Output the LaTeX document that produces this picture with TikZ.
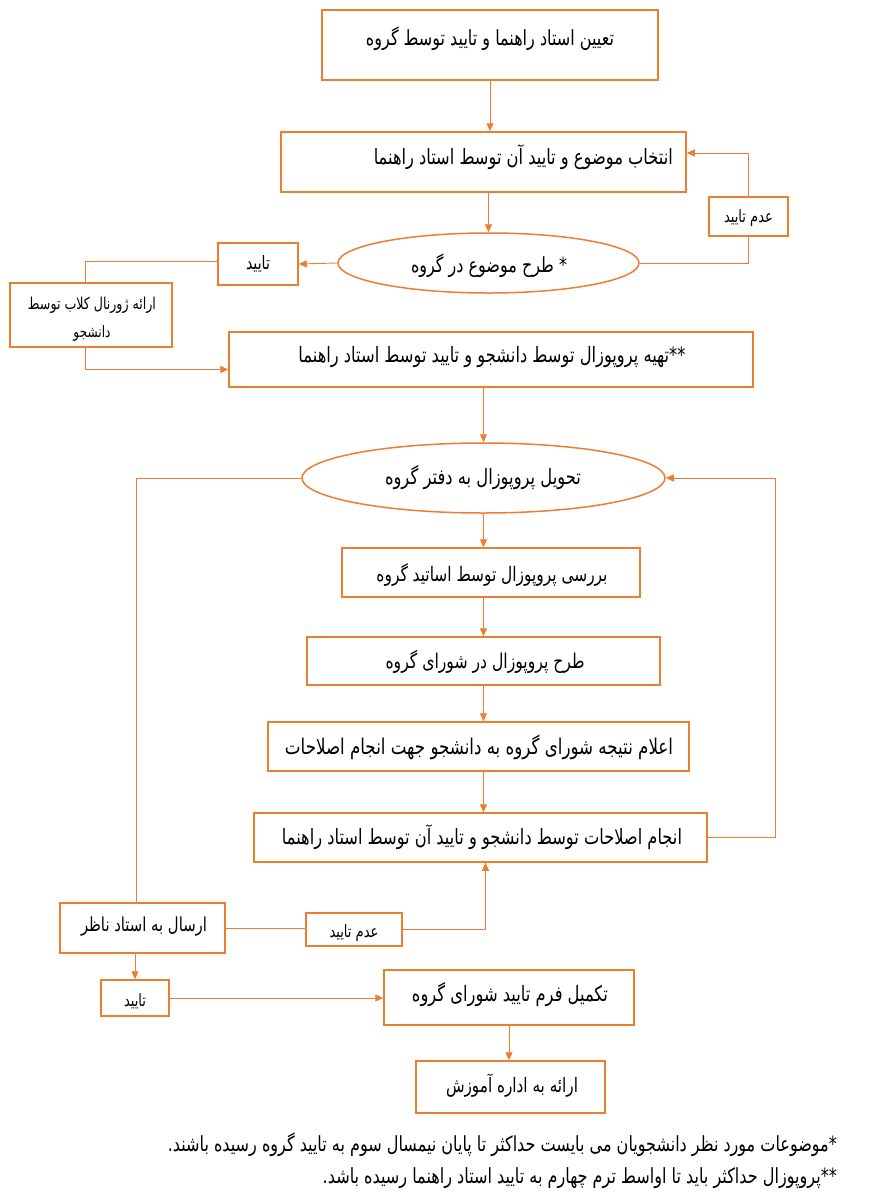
\documentclass[tikz,border=0pt]{standalone}
\usepackage{fontspec}
\usepackage{graphicx}
\usetikzlibrary{shapes.geometric,arrows.meta,calc}
\newfontfamily\arabicfont[Script=Arabic]{DejaVu Sans}
\TeXXeTstate=1
\definecolor{org}{RGB}{237,125,49}
\newcommand{\fa}[2]{\scalebox{1}[1.3]{\resizebox{#1pt}{!}{\arabicfont #2}}}
\begin{document}
\begin{tikzpicture}[x=1pt,y=-1pt,
  box/.style={draw=org, line width=1.5pt, rectangle, inner sep=0pt},
  oval/.style={draw=org, line width=1.5pt, ellipse, inner sep=0pt},
  conn/.style={draw=org, line width=0.9pt},
  arr/.style={conn, -{Triangle[length=8pt,width=7pt]}},
  lbl/.style={inner sep=0pt, text=black}]
\fill[white] (0,0) rectangle (870,1200);
\useasboundingbox (0,0) rectangle (870,1200);

% shapes
\node[box, minimum width=336pt, minimum height=70pt] (b1) at (490,45) {};
\node[box, minimum width=405pt, minimum height=60pt] (b2) at (483.5,162) {};
\node[oval, minimum width=301pt, minimum height=60pt] (e1) at (488.5,263) {};
\node[box, minimum width=79pt, minimum height=39pt] (nd1) at (748.5,216.5) {};
\node[box, minimum width=80pt, minimum height=42pt] (ok1) at (258,264) {};
\node[box, minimum width=162pt, minimum height=64pt] (jc) at (91,315) {};
\node[box, minimum width=524pt, minimum height=55pt] (b3) at (491,359.5) {};
\node[oval, minimum width=363pt, minimum height=70pt] (e2) at (483.5,478) {};
\node[box, minimum width=298pt, minimum height=49pt] (b4) at (491,572.5) {};
\node[box, minimum width=353pt, minimum height=48pt] (b5) at (483.5,661) {};
\node[box, minimum width=421pt, minimum height=49pt] (b6) at (478.5,746.5) {};
\node[box, minimum width=453pt, minimum height=49pt] (b7) at (480.5,837.5) {};
\node[box, minimum width=165pt, minimum height=50pt] (obs) at (142.5,928) {};
\node[box, minimum width=96pt, minimum height=33pt] (nd2) at (354,929.5) {};
\node[box, minimum width=68pt, minimum height=36pt] (ok2) at (135,998) {};
\node[box, minimum width=250pt, minimum height=55pt] (b8) at (509,997.5) {};
\node[box, minimum width=189pt, minimum height=52pt] (b9) at (510.5,1087) {};

% labels
\node[lbl] (t1) at (490,39) {\fa{248}{\beginR تعیین استاد راهنما و تایید توسط گروه\endR}};
\node[lbl, anchor=east] (t2) at (673,157) {\fa{299}{\beginR انتخاب موضوع و تایید آن توسط استاد راهنما\endR}};
\node[lbl] (te1) at (489,266) {\fa{156}{\beginR *\kern0pt{} طرح موضوع در گروه\endR}};
\node[lbl] (tnd1) at (748.5,218) {\fa{49}{\beginR عدم تایید\endR}};
\node[lbl] (tok1) at (258,264) {\fa{24}{\beginR تایید\endR}};
\node[lbl] (tjc1) at (92,305) {\fa{128}{\beginR ارائه ژورنال کلاب توسط\endR}};
\node[lbl] (tjc2) at (92,333) {\fa{37}{\beginR دانشجو\endR}};
\node[lbl] (t3) at (492,357) {\fa{387}{\beginR **\kern0pt تهیه پروپوزال توسط دانشجو و تایید توسط استاد راهنما\endR}};
\node[lbl] (te2) at (483,478) {\fa{196}{\beginR تحویل پروپوزال به دفتر گروه\endR}};
\node[lbl] (t4) at (492,575) {\fa{231}{\beginR بررسی پروپوزال توسط اساتید گروه\endR}};
\node[lbl] (t5) at (485,662) {\fa{199}{\beginR طرح پروپوزال در شورای گروه\endR}};
\node[lbl] (t6) at (479,747) {\fa{388}{\beginR اعلام نتیجه شورای گروه به دانشجو جهت انجام اصلاحات\endR}};
\node[lbl] (t7) at (482,837) {\fa{400}{\beginR انجام اصلاحات توسط دانشجو و تایید آن توسط استاد راهنما\endR}};
\node[lbl] (tobs) at (144,927) {\fa{126}{\beginR ارسال به استاد ناظر\endR}};
\node[lbl] (tnd2) at (354,933) {\fa{49}{\beginR عدم تایید\endR}};
\node[lbl] (tok2) at (135,1001) {\fa{22}{\beginR تایید\endR}};
\node[lbl] (t8) at (510,995) {\fa{196}{\beginR تکمیل فرم تایید شورای گروه\endR}};
\node[lbl] (t9) at (512,1086) {\fa{132}{\beginR ارائه به اداره آموزش\endR}};
\node[lbl, anchor=east] (f1) at (837,1145) {\fa{669}{\beginR *\kern0pt موضوعات مورد نظر دانشجویان می بایست حداکثر تا پایان نیمسال سوم به تایید گروه رسیده باشند\kern0pt.\endR}};
\node[lbl, anchor=east] (f2) at (837,1178) {\fa{514}{\beginR **\kern0pt پروپوزال حداکثر باید تا اواسط ترم چهارم به تایید استاد راهنما رسیده باشد\kern0pt.\endR}};

% connectors
\draw[arr] (b1.south) -- (b1.south |- b2.north);
\draw[arr] (e1.north |- b2.south) -- (e1.north);
\draw[conn] (e1.east) -| (nd1.south);
\draw[arr] (nd1.north) |- ([yshift=9pt]b2.east);
\draw[arr] (e1.west) -- (ok1.east);
\draw[conn] ([yshift=3pt]ok1.west) -| ([xshift=-6pt]jc.north);
\draw[arr] ([xshift=-6pt]jc.south) |- ([yshift=-10pt]b3.west);
\draw[arr] (e2.north |- b3.south) -- (e2.north);
\draw[arr] (e2.south) -- (e2.south |- b4.north);
\draw[arr] (e2.south |- b4.south) -- (e2.south |- b5.north);
\draw[arr] (e2.south |- b5.south) -- (e2.south |- b6.north);
\draw[arr] (e2.south |- b6.south) -- (e2.south |- b7.north);
\draw[arr] (b7.east) -- ++(68,0) |- (e2.east);
\draw[conn] (e2.west) -| ([xshift=-6.5pt]obs.north);
\draw[conn] (obs.east) -- (obs.east -| nd2.west);
\draw[arr] (nd2.east) -| ([xshift=5pt]b7.south);
\draw[arr] (ok2.north |- obs.south) -- (ok2.north);
\draw[arr] (ok2.east) -- (ok2.east -| b8.west);
\draw[arr] (b8.south) -- (b8.south |- b9.north);
\end{tikzpicture}
\end{document}
